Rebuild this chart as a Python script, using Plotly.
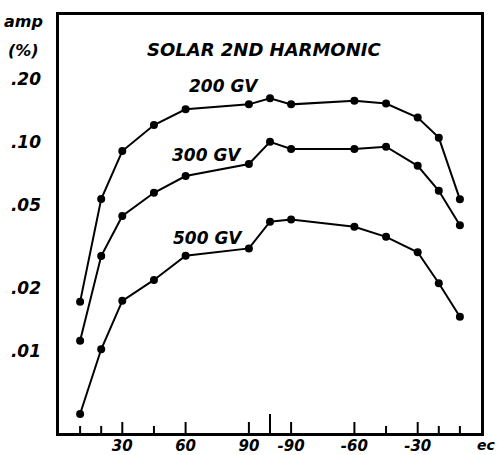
import math
import plotly.graph_objects as go

# Positions along the latitude axis: 0..90 north, 100 between hemispheres, -90..0 south mapped to 110..200
lat_pos = [10, 20, 30, 45, 60, 90, 100, 110, 140, 155, 170, 180, 190]

amp_200 = [0.0172, 0.0534, 0.0906, 0.1206, 0.1434, 0.1515, 0.162, 0.1515, 0.1576, 0.153, 0.131, 0.105, 0.0532]
amp_300 = [0.0112, 0.0285, 0.0443, 0.0572, 0.0688, 0.0785, 0.1003, 0.0926, 0.0926, 0.095, 0.077, 0.0585, 0.0400]
amp_500 = [0.0050, 0.0102, 0.0174, 0.0219, 0.0286, 0.0310, 0.0416, 0.0426, 0.0393, 0.0352, 0.0297, 0.0211, 0.0146]

x_tickvals = [30, 60, 90, 110, 140, 170]
x_ticktext = ["30", "60", "90", "-90", "-60", "-30"]
x_minor = [10, 20, 45, 155, 180, 190]
x_long = [100]

y_tickvals = [0.01, 0.02, 0.05, 0.10, 0.20]
y_ticktext = [".01", ".02", ".05", ".10", ".20"]
y_minor = [0.03, 0.04, 0.06, 0.07, 0.08, 0.09, 0.15]

X_RANGE = [0, 200]
Y_RANGE = [-2.392, -0.392]
PLOT_W, PLOT_H = 422, 418  # plot area in px (for tick length conversion)
FONT = "DejaVu Sans"
NB = "\u00a0"

def lab_font(size):
    return dict(family=FONT, size=size, color="black", weight="bold", style="italic")

fig = go.Figure()
for vals in (amp_200, amp_300, amp_500):
    fig.add_trace(go.Scatter(
        x=lat_pos, y=vals, mode="lines+markers",
        line=dict(color="black", width=2),
        marker=dict(color="black", size=8),
        showlegend=False, hoverinfo="skip",
    ))

labels = [
    ("SOLAR 2ND HARMONIC", 97, 0.276, 18),
    ("200 GV", 78, 0.185, 17),
    ("300 GV", 70, 0.0867, 17),
    ("500 GV", 70.5, 0.0347, 17),
]
for txt, xx, yy, sz in labels:
    fig.add_annotation(x=xx, y=math.log10(yy), xref="x", yref="y", text=txt,
                       showarrow=False, font=lab_font(sz))

fig.add_annotation(x=-0.083, y=0.985, xref="paper", yref="paper", text="amp",
                   showarrow=False, font=lab_font(16), xanchor="center", yanchor="middle")
fig.add_annotation(x=-0.085, y=0.915, xref="paper", yref="paper", text="(%)",
                   showarrow=False, font=lab_font(16), xanchor="center", yanchor="middle")
fig.add_annotation(x=1.038, y=-0.028, xref="paper", yref="paper", text="ec",
                   showarrow=False, font=lab_font(14), xanchor="right", yanchor="middle")

# inside tick marks (drawn as short axis-anchored segments at the tick values)
tick_line = dict(color="black", width=2)
def xtick(v, length):
    fig.add_shape(type="line", xref="x", yref="y domain", x0=v, x1=v,
                  y0=0, y1=length / PLOT_H, line=tick_line, layer="above")
def ytick(v, length, side):
    x0 = 0 if side == "left" else 1
    x1 = length / PLOT_W if side == "left" else 1 - length / PLOT_W
    lv = math.log10(v)
    fig.add_shape(type="line", xref="x domain", yref="y", x0=x0, x1=x1,
                  y0=lv, y1=lv, line=tick_line, layer="above")

for v in x_tickvals:
    xtick(v, 11)
for v in x_minor:
    xtick(v, 7)
for v in x_long:
    xtick(v, 19)
for side in ("left", "right"):
    for v in y_tickvals:
        ytick(v, 12, side)
    for v in y_minor:
        ytick(v, 7, side)

fig.update_layout(
    width=497, height=455,
    margin=dict(l=59, r=16, t=15, b=22),
    paper_bgcolor="white", plot_bgcolor="white",
    xaxis=dict(
        range=X_RANGE, showline=True, linecolor="black", linewidth=2.5, mirror=True,
        tickmode="array", tickvals=x_tickvals, ticktext=x_ticktext,
        ticks="", tickfont=lab_font(15), ticklabelstandoff=-3,
        showgrid=False, zeroline=False, automargin=False,
    ),
    yaxis=dict(
        type="log", range=Y_RANGE, showline=True, linecolor="black", linewidth=2.5,
        mirror=True,
        tickmode="array", tickvals=y_tickvals, ticktext=[t + NB * 2 for t in y_ticktext],
        ticks="", tickfont=lab_font(17),
        showgrid=False, zeroline=False, automargin=False,
    ),
)

fig.write_html("out.html", config={"displayModeBar": False},
               post_script="document.body.style.margin='0';document.body.style.overflow='hidden';")
